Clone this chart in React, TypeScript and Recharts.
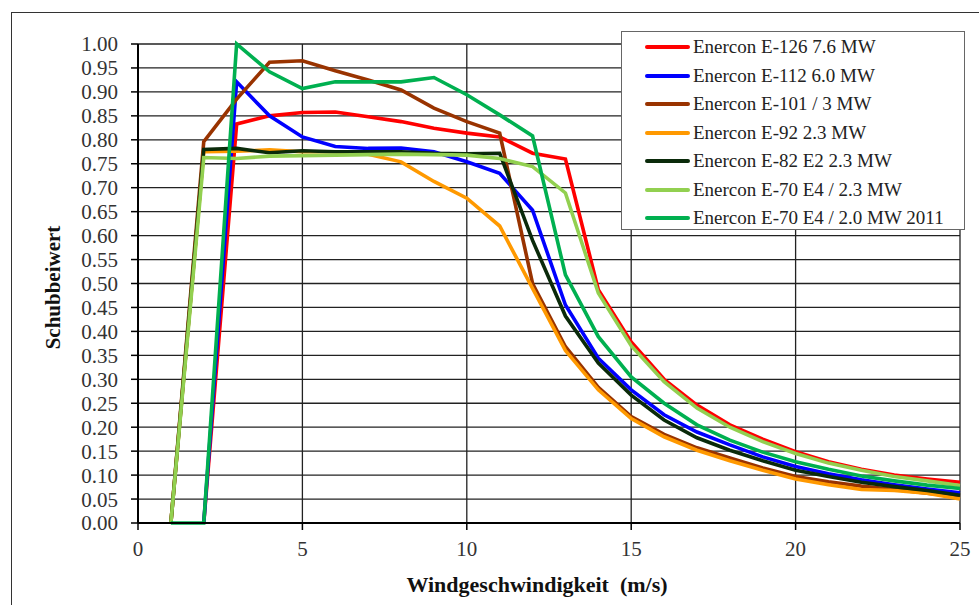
import {
  LineChart,
  Line,
  XAxis,
  YAxis,
  CartesianGrid,
  Legend,
  Label,
} from "recharts";

// wind speed (m/s)
const windSpeed = [1, 2, 3, 4, 5, 6, 7, 8, 9, 10, 11, 12, 13, 14, 15, 16, 17, 18, 19, 20, 21, 22, 23, 24, 25];

const e126 = [null, 0, 0.833, 0.85, 0.857, 0.858, 0.848, 0.838, 0.824, 0.814, 0.806, 0.772, 0.76, 0.487, 0.378, 0.3, 0.246, 0.205, 0.175, 0.149, 0.128, 0.112, 0.1, 0.092, 0.085];
const e112 = [null, 0, 0.921, 0.85, 0.806, 0.786, 0.782, 0.783, 0.775, 0.754, 0.73, 0.653, 0.455, 0.344, 0.278, 0.226, 0.19, 0.163, 0.138, 0.118, 0.103, 0.09, 0.08, 0.071, 0.063];
const e101 = [0, 0.796, 0.885, 0.962, 0.965, 0.944, 0.925, 0.904, 0.866, 0.838, 0.814, 0.5, 0.368, 0.283, 0.222, 0.185, 0.157, 0.136, 0.115, 0.097, 0.086, 0.077, 0.07, 0.062, 0.055];
const e92 = [0, 0.775, 0.776, 0.779, 0.775, 0.775, 0.77, 0.754, 0.713, 0.678, 0.62, 0.49, 0.36, 0.278, 0.218, 0.18, 0.152, 0.13, 0.11, 0.092, 0.08, 0.07, 0.068, 0.062, 0.05];
const e82 = [0, 0.78, 0.782, 0.773, 0.777, 0.775, 0.775, 0.775, 0.772, 0.771, 0.772, 0.59, 0.432, 0.334, 0.267, 0.215, 0.178, 0.152, 0.13, 0.11, 0.097, 0.085, 0.076, 0.068, 0.058];
const e70 = [0, 0.763, 0.761, 0.766, 0.767, 0.768, 0.769, 0.77, 0.769, 0.768, 0.761, 0.744, 0.689, 0.48, 0.37, 0.295, 0.24, 0.2, 0.17, 0.145, 0.125, 0.11, 0.097, 0.088, 0.078];
const e70_2011 = [0, 0, 1.0, 0.942, 0.907, 0.921, 0.921, 0.921, 0.93, 0.894, 0.852, 0.808, 0.518, 0.389, 0.305, 0.25, 0.205, 0.173, 0.148, 0.128, 0.112, 0.098, 0.088, 0.079, 0.072];

const xTicks = [0, 5, 10, 15, 20, 25];
const yTicks = [0, 0.05, 0.1, 0.15, 0.2, 0.25, 0.3, 0.35, 0.4, 0.45, 0.5, 0.55, 0.6, 0.65, 0.7, 0.75, 0.8, 0.85, 0.9, 0.95, 1.0];

const series = [
  { key: "e126", name: "Enercon E-126 7.6 MW", color: "#ff0000", values: e126 },
  { key: "e112", name: "Enercon E-112 6.0 MW", color: "#0000ff", values: e112 },
  { key: "e101", name: "Enercon E-101 / 3 MW", color: "#993300", values: e101 },
  { key: "e92", name: "Enercon E-92 2.3 MW", color: "#ff9900", values: e92 },
  { key: "e82", name: "Enercon E-82 E2 2.3 MW", color: "#0a2a0a", values: e82 },
  { key: "e70", name: "Enercon E-70 E4 / 2.3 MW", color: "#92d050", values: e70 },
  { key: "e70_2011", name: "Enercon E-70 E4 / 2.0 MW 2011", color: "#00b050", values: e70_2011 },
];

const data = windSpeed.map((v, i) => {
  const row: Record<string, number | null> = { v };
  series.forEach((s) => {
    row[s.key] = s.values[i];
  });
  return row;
});

const FONT = '"Liberation Serif", "Times New Roman", serif';

const LegendBox = () => (
  <div
    style={{
      width: 344,
      height: 199,
      boxSizing: "border-box",
      border: "1.5px solid #666",
      background: "#fff",
      fontFamily: FONT,
      fontSize: 19,
      color: "#222",
      paddingTop: 1,
    }}
  >
    {series.map((s) => (
      <div
        key={s.key}
        style={{ display: "flex", alignItems: "center", height: 28.5 }}
      >
        <span
          style={{
            display: "inline-block",
            width: 45,
            height: 4,
            marginLeft: 23,
            marginRight: 3,
            borderRadius: 2,
            background: s.color,
          }}
        />
        <span style={{ whiteSpace: "pre" }}>{s.name}</span>
      </div>
    ))}
  </div>
);

export default function App() {
  return (
    <div
      style={{
        position: "absolute",
        left: 0,
        top: 0,
        width: 979,
        height: 605,
        overflow: "hidden",
        background: "#fff",
      }}
    >
      <div
        style={{
          position: "absolute",
          left: 11,
          top: 12,
          width: 1000,
          height: 700,
          border: "1.5px solid #333",
        }}
      />
      <div style={{ position: "absolute", left: 0, top: 0 }}>
        <LineChart
          width={979}
          height={605}
          data={data}
          margin={{ top: 44, right: 19, bottom: 32, left: 48 }}
        >
          <CartesianGrid stroke="#222" strokeWidth={1.3} />
          <XAxis
            dataKey="v"
            type="number"
            domain={[0, 25]}
            ticks={xTicks}
            height={50}
            interval={0}
            axisLine={{ stroke: "#000", strokeWidth: 2 }}
            tickLine={{ stroke: "#000", strokeWidth: 1.5 }}
            tickSize={7}
            tickMargin={11}
            tick={{ fontFamily: FONT, fontSize: 21, fill: "#333" }}
          >
            <Label
              content={({ viewBox }: any) => (
                <text
                  x={viewBox.x + viewBox.width / 2 - 12}
                  y={viewBox.y + 69}
                  textAnchor="middle"
                  style={{ whiteSpace: "pre" }}
                  fontFamily={FONT}
                  fontWeight="bold"
                  fontSize={22}
                  fill="#111"
                >
                  Windgeschwindigkeit  (m/s)
                </text>
              )}
            />
          </XAxis>
          <YAxis
            type="number"
            domain={[0, 1]}
            ticks={yTicks}
            interval={0}
            width={90}
            axisLine={{ stroke: "#000", strokeWidth: 2 }}
            tickLine={{ stroke: "#000", strokeWidth: 1.5 }}
            tickSize={7}
            tickMargin={13}
            tickFormatter={(t: number) => t.toFixed(2)}
            tick={{ fontFamily: FONT, fontSize: 21, fill: "#333" }}
          >
            <Label
              content={({ viewBox }: any) => {
                const cx = viewBox.x + 5;
                const cy = viewBox.y + viewBox.height / 2 + 4;
                return (
                  <text
                    x={cx}
                    y={cy}
                    transform={`rotate(-90, ${cx}, ${cy})`}
                    textAnchor="middle"
                    dominantBaseline="central"
                    fontFamily={FONT}
                    fontWeight="bold"
                    fontSize={21}
                    fill="#111"
                  >
                    Schubbeiwert
                  </text>
                );
              }}
            />
          </YAxis>
          <Legend
            content={() => <LegendBox />}
            wrapperStyle={{
              left: 621,
              top: 31,
              width: 0,
              height: 0,
              overflow: "visible",
            }}
          />
          {series.map((s) => (
            <Line
              key={s.key}
              type="linear"
              dataKey={s.key}
              name={s.name}
              stroke={s.color}
              strokeWidth={3.6}
              dot={false}
              activeDot={false}
              isAnimationActive={false}
            />
          ))}
        </LineChart>
      </div>
    </div>
  );
}
